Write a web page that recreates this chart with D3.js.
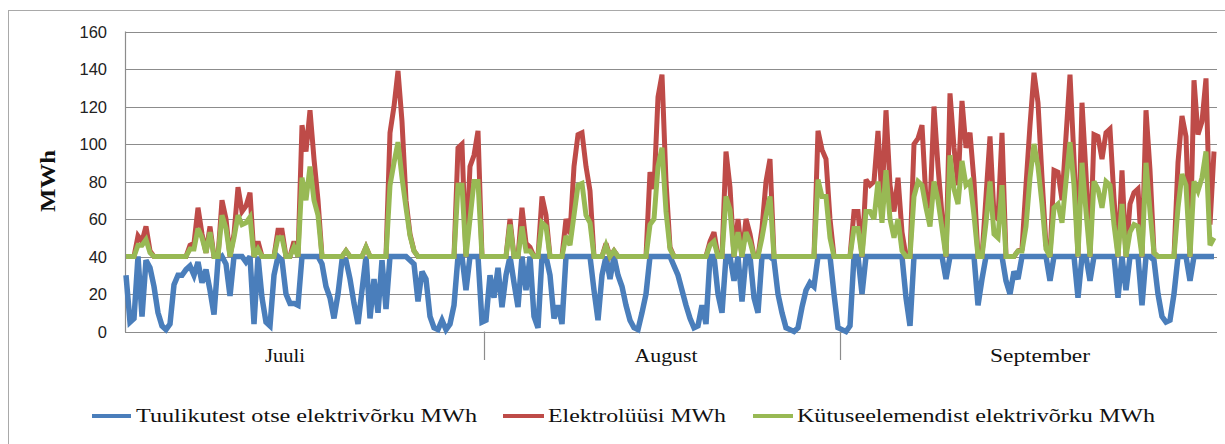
<!DOCTYPE html>
<html>
<head>
<meta charset="utf-8">
<script src="https://cdn.jsdelivr.net/npm/d3@7"></script>
<style>
  html, body { margin: 0; padding: 0; background: #fff; }
  svg { display: block; }
</style>
</head>
<body>
<svg id="chart" width="1225" height="444"></svg>
<script>
// ---------------- DATA ----------------
const seriesNames = [
  "Tuulikutest otse elektrivõrku MWh",
  "Elektrolüüsi MWh",
  "Kütuseelemendist elektrivõrku MWh"
];
const months = ["Juuli", "August", "September"];
// index (sample position) where each month group starts / ends
const monthBounds = [0, 89.5, 178.5, 272];
const yTicks = [0, 20, 40, 60, 80, 100, 120, 140, 160];

// Tuulikutest otse elektrivõrku (blue)
const tuulikud = [
  30,5,7,40,8,38,34,24,10,3,1,4,25,30,30,33,35,30,37,26,33,22,9,38,40,36,19,40,40,40,37,40,4,40,18,5,3,30,40,38,20,15,15,14,40,40,40,40,40,36,24,18,7,20,38,
  38,28,15,4,22,40,7,28,10,38,12,40,40,40,40,40,38,36,16,32,28,8,2,1,6,1,4,14,40,40,22,40,40,40,5,6,30,18,34,13,30,40,26,13,40,22,40,8,2,40,40,30,7,14,4,
  40,40,40,40,40,40,40,22,6,30,40,28,40,30,24,14,6,2,1,10,20,40,40,40,40,40,40,35,30,22,14,7,2,3,14,4,40,40,20,10,40,40,27,40,16,40,40,18,10,40,40,40,38,20,10,
  2,1,0,2,13,22,26,24,40,40,40,40,20,2,1,0,3,40,40,20,40,40,40,40,40,40,40,40,40,40,18,3,40,40,40,40,40,40,40,40,28,40,40,40,40,40,40,40,14,28,40,40,40,40,40,
  27,20,32,28,40,40,40,40,40,40,40,27,40,40,40,40,40,40,18,40,40,27,40,40,40,40,40,40,18,40,22,40,40,40,14,40,40,38,20,8,5,6,20,40,40,40,27,40,40,40,40,40,40
];

// Elektrolüüsi (red)
const elektroluus = [
  40,40,40,51,48,56,43,40,40,40,40,40,40,40,40,40,46,47,66,52,42,56,40,40,70,60,40,52,77,64,67,74,40,48,40,40,40,40,54,54,40,40,48,40,110,96,118,92,70,40,40,40,40,40,40,
  43,40,40,40,40,45,40,40,40,40,40,106,120,139,112,70,52,43,40,40,40,40,40,40,40,40,40,40,98,100,40,88,94,107,40,40,40,40,40,40,40,60,40,40,66,47,45,40,40,72,62,40,40,40,40,
  60,52,88,105,106,88,75,40,40,40,47,40,43,40,40,40,40,40,40,40,40,85,76,125,137,80,45,40,40,40,40,40,40,40,40,40,48,53,40,40,96,77,40,60,40,60,52,40,40,55,80,92,40,40,40,
  40,40,40,40,40,40,40,40,107,97,92,60,40,40,40,40,40,64,64,40,81,78,80,107,70,118,78,64,82,53,40,40,100,103,110,70,66,120,88,62,40,127,98,78,123,98,106,80,40,40,72,104,62,60,106,
  40,40,40,43,44,78,110,138,122,82,46,40,86,85,70,104,137,92,40,122,84,40,105,104,92,106,108,71,40,86,40,68,74,76,40,118,86,42,40,40,40,40,40,90,115,104,40,134,105,112,135,57,96
];

// Kütuseelemendist elektrivõrku (green)
const kytuseelement = [
  40,40,40,46,46,49,42,40,40,40,40,40,40,40,40,40,44,44,55,50,42,53,40,40,62,55,40,50,62,57,58,61,40,44,40,40,40,40,50,50,40,40,45,40,82,70,88,70,62,40,40,40,40,40,40,
  43,40,40,40,40,45,40,40,40,40,40,78,90,101,82,66,51,43,40,40,40,40,40,40,40,40,40,40,78,78,40,60,80,80,40,40,40,40,40,40,40,57,40,40,56,43,43,40,40,58,56,40,40,40,40,
  51,46,62,78,79,62,58,40,40,40,46,40,43,40,40,40,40,40,40,40,40,57,60,88,98,64,44,40,40,40,40,40,40,40,40,40,46,48,40,40,72,65,40,53,40,53,48,40,40,50,62,72,40,40,40,
  40,40,40,40,40,40,40,40,81,72,72,50,40,40,40,40,40,55,55,40,64,64,60,80,58,86,60,50,60,43,40,40,72,80,78,66,56,80,70,55,40,94,76,68,91,78,80,62,40,40,58,80,52,50,78,
  40,40,40,43,43,56,82,100,88,68,44,40,66,68,58,80,101,78,40,90,64,40,80,76,66,80,78,57,40,68,40,53,57,56,40,90,64,42,40,40,40,40,40,66,84,78,40,80,75,82,96,46,50
];

// ---------------- LAYOUT ----------------
const svg = d3.select("#chart");
const plot = { left: 125, right: 1217, top: 31.5, bottom: 331.5 };
const colors = ["#4A7EBB", "#BE4B48", "#98B954"];
const serif = "'Liberation Serif', 'Times New Roman', serif";
const sans = "'Liberation Sans', Arial, sans-serif";

svg.append("rect").attr("x", 0).attr("y", 0).attr("width", 1225).attr("height", 444).attr("fill", "#fff");
// outer chart border
svg.append("rect").attr("x", 8.5).attr("y", 10.5).attr("width", 1240).attr("height", 460)
  .attr("fill", "none").attr("stroke", "#a9a9a9").attr("stroke-width", 1);

const N = tuulikud.length;
const x = d3.scaleLinear().domain([0, N - 1]).range([126, 1214]);
const y = d3.scaleLinear().domain([0, 160]).range([plot.bottom, plot.top]);

// gridlines
svg.append("g").selectAll("line").data(yTicks).join("line")
  .attr("x1", plot.left).attr("x2", plot.right)
  .attr("y1", d => Math.round(y(d)) + 0.5).attr("y2", d => Math.round(y(d)) + 0.5)
  .attr("stroke", "#8c8c8c").attr("stroke-width", 1.2);

// y axis labels
const yAxis = d3.axisLeft(y).tickValues(yTicks).tickSize(0).tickPadding(0);
const gy = svg.append("g").attr("transform", `translate(107,0)`).call(yAxis);
gy.select(".domain").remove();
gy.selectAll("text").attr("font-family", sans).attr("font-size", 16.5).attr("fill", "#222")
  .attr("dy", "0.35em");

// left axis line
svg.append("line").attr("x1", plot.left + 0.5).attr("x2", plot.left + 0.5)
  .attr("y1", plot.top).attr("y2", plot.bottom + 0.5)
  .attr("stroke", "#8c8c8c").attr("stroke-width", 1.2);

// month dividers on category axis
const dividers = monthBounds.slice(1, -1);
svg.append("g").selectAll("line").data(dividers).join("line")
  .attr("x1", d => Math.round(x(d)) + 0.5).attr("x2", d => Math.round(x(d)) + 0.5)
  .attr("y1", plot.bottom).attr("y2", 360)
  .attr("stroke", "#8c8c8c").attr("stroke-width", 1.2);

// month labels
const monthLabelX = [285, 666, 1040];
const monthLabelW = [40, 63, 100];
svg.append("g").selectAll("text").data(months).join("text")
  .attr("x", (d, i) => monthLabelX[i]).attr("y", 362)
  .attr("text-anchor", "middle")
  .attr("font-family", serif).attr("font-size", 19).attr("fill", "#111")
  .attr("textLength", (d, i) => monthLabelW[i]).attr("lengthAdjust", "spacingAndGlyphs")
  .text(d => d);

// y axis title
svg.append("text")
  .attr("transform", "translate(55,181) rotate(-90)")
  .attr("text-anchor", "middle")
  .attr("font-family", serif).attr("font-weight", "bold").attr("font-size", 21).attr("fill", "#111")
  .attr("textLength", 62).attr("lengthAdjust", "spacingAndGlyphs")
  .text("MWh");

// series lines: blue, red, green (green on top)
const line = d3.line().x((d, i) => x(i)).y(d => y(d)).curve(d3.curveLinear);
const series = [tuulikud, elektroluus, kytuseelement];
const widths = [5.5, 5, 5];
svg.append("g").selectAll("path").data(series).join("path")
  .attr("d", d => line(d))
  .attr("fill", "none")
  .attr("stroke", (d, i) => colors[i])
  .attr("stroke-width", (d, i) => widths[i])
  .attr("stroke-linejoin", "miter")
  .attr("stroke-miterlimit", 3)
  .attr("stroke-linecap", "butt");

// legend
const legendItems = [
  { x1: 92, x2: 131, tx: 136, tw: 341 },
  { x1: 503, x2: 544, tx: 548, tw: 178 },
  { x1: 753, x2: 793, tx: 797, tw: 358 }
];
const lg = svg.append("g").selectAll("g").data(seriesNames).join("g");
lg.append("line")
  .attr("x1", (d, i) => legendItems[i].x1).attr("x2", (d, i) => legendItems[i].x2)
  .attr("y1", 416).attr("y2", 416)
  .attr("stroke", (d, i) => colors[i]).attr("stroke-width", 4);
lg.append("text")
  .attr("x", (d, i) => legendItems[i].tx).attr("y", 422)
  .attr("font-family", serif).attr("font-size", 19).attr("fill", "#111")
  .attr("textLength", (d, i) => legendItems[i].tw).attr("lengthAdjust", "spacingAndGlyphs")
  .text(d => d);
</script>
</body>
</html>
